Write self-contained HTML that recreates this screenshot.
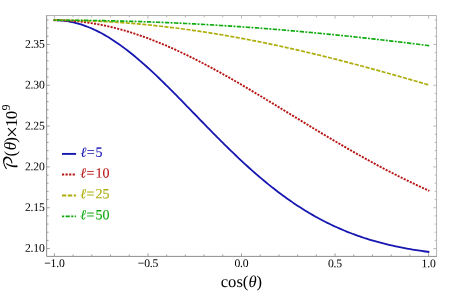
<!DOCTYPE html>
<html><head><meta charset="utf-8"><title>plot</title>
<style>html,body{margin:0;padding:0;background:#fff;}svg{display:block;}text{font-family:"Liberation Serif","DejaVu Math TeX Gyre",serif;}</style>
</head><body>
<svg width="459" height="293" viewBox="0 0 459 293">
<rect width="459" height="293" fill="#fff"/>
<path d="M53.65,20.20 L55.53,20.21 L57.41,20.25 L59.29,20.34 L61.17,20.48 L63.04,20.65 L64.92,20.87 L66.80,21.13 L68.68,21.43 L70.56,21.78 L72.44,22.17 L74.31,22.59 L76.19,23.07 L78.07,23.58 L79.95,24.13 L81.83,24.72 L83.71,25.36 L85.59,26.03 L87.46,26.74 L89.34,27.50 L91.22,28.29 L93.10,29.12 L94.98,29.99 L96.86,30.89 L98.74,31.84 L100.61,32.82 L102.49,33.83 L104.37,34.88 L106.25,35.97 L108.13,37.09 L110.01,38.25 L111.88,39.44 L113.76,40.66 L115.64,41.91 L117.52,43.19 L119.40,44.51 L121.28,45.86 L123.16,47.23 L125.03,48.64 L126.91,50.07 L128.79,51.53 L130.67,53.02 L132.55,54.53 L134.43,56.07 L136.30,57.63 L138.18,59.21 L140.06,60.82 L141.94,62.45 L143.82,64.11 L145.70,65.78 L147.58,67.48 L149.45,69.19 L151.33,70.92 L153.21,72.67 L155.09,74.43 L156.97,76.22 L158.85,78.01 L160.73,79.82 L162.60,81.65 L164.48,83.49 L166.36,85.34 L168.24,87.20 L170.12,89.07 L172.00,90.95 L173.87,92.84 L175.75,94.74 L177.63,96.64 L179.51,98.56 L181.39,100.47 L183.27,102.40 L185.15,104.32 L187.02,106.26 L188.90,108.19 L190.78,110.13 L192.66,112.06 L194.54,114.00 L196.42,115.94 L198.29,117.88 L200.17,119.81 L202.05,121.75 L203.93,123.68 L205.81,125.61 L207.69,127.53 L209.57,129.45 L211.44,131.37 L213.32,133.27 L215.20,135.18 L217.08,137.07 L218.96,138.96 L220.84,140.84 L222.72,142.71 L224.59,144.57 L226.47,146.42 L228.35,148.26 L230.23,150.09 L232.11,151.91 L233.99,153.72 L235.86,155.52 L237.74,157.30 L239.62,159.07 L241.50,160.83 L243.38,162.57 L245.26,164.30 L247.14,166.01 L249.01,167.71 L250.89,169.40 L252.77,171.07 L254.65,172.72 L256.53,174.36 L258.41,175.98 L260.28,177.58 L262.16,179.17 L264.04,180.74 L265.92,182.29 L267.80,183.83 L269.68,185.35 L271.56,186.85 L273.43,188.33 L275.31,189.79 L277.19,191.24 L279.07,192.67 L280.95,194.07 L282.83,195.46 L284.71,196.83 L286.58,198.19 L288.46,199.52 L290.34,200.83 L292.22,202.13 L294.10,203.40 L295.98,204.66 L297.85,205.90 L299.73,207.12 L301.61,208.32 L303.49,209.50 L305.37,210.66 L307.25,211.80 L309.13,212.92 L311.00,214.03 L312.88,215.11 L314.76,216.18 L316.64,217.23 L318.52,218.26 L320.40,219.27 L322.27,220.26 L324.15,221.24 L326.03,222.19 L327.91,223.13 L329.79,224.05 L331.67,224.95 L333.55,225.84 L335.42,226.70 L337.30,227.55 L339.18,228.39 L341.06,229.20 L342.94,230.00 L344.82,230.78 L346.70,231.55 L348.57,232.30 L350.45,233.03 L352.33,233.75 L354.21,234.45 L356.09,235.14 L357.97,235.81 L359.84,236.46 L361.72,237.10 L363.60,237.73 L365.48,238.34 L367.36,238.94 L369.24,239.52 L371.12,240.09 L372.99,240.64 L374.87,241.19 L376.75,241.71 L378.63,242.23 L380.51,242.73 L382.39,243.22 L384.26,243.70 L386.14,244.17 L388.02,244.62 L389.90,245.06 L391.78,245.49 L393.66,245.91 L395.54,246.32 L397.41,246.72 L399.29,247.10 L401.17,247.48 L403.05,247.84 L404.93,248.20 L406.81,248.54 L408.69,248.88 L410.56,249.21 L412.44,249.52 L414.32,249.83 L416.20,250.13 L418.08,250.42 L419.96,250.70 L421.83,250.98 L423.71,251.24 L425.59,251.50 L427.47,251.75 L429.35,251.99" fill="none" stroke="#1616b0" stroke-width="1.8"/>
<path d="M53.65,20.20 L55.53,20.20 L57.41,20.22 L59.29,20.25 L61.17,20.30 L63.04,20.36 L64.92,20.44 L66.80,20.53 L68.68,20.64 L70.56,20.76 L72.44,20.90 L74.31,21.05 L76.19,21.22 L78.07,21.40 L79.95,21.60 L81.83,21.81 L83.71,22.04 L85.59,22.28 L87.46,22.54 L89.34,22.81 L91.22,23.10 L93.10,23.40 L94.98,23.72 L96.86,24.05 L98.74,24.39 L100.61,24.75 L102.49,25.13 L104.37,25.52 L106.25,25.92 L108.13,26.33 L110.01,26.77 L111.88,27.21 L113.76,27.67 L115.64,28.14 L117.52,28.63 L119.40,29.12 L121.28,29.64 L123.16,30.16 L125.03,30.70 L126.91,31.26 L128.79,31.82 L130.67,32.40 L132.55,32.99 L134.43,33.60 L136.30,34.21 L138.18,34.84 L140.06,35.48 L141.94,36.14 L143.82,36.81 L145.70,37.48 L147.58,38.17 L149.45,38.88 L151.33,39.59 L153.21,40.32 L155.09,41.05 L156.97,41.80 L158.85,42.56 L160.73,43.33 L162.60,44.11 L164.48,44.90 L166.36,45.71 L168.24,46.52 L170.12,47.34 L172.00,48.18 L173.87,49.02 L175.75,49.88 L177.63,50.74 L179.51,51.61 L181.39,52.49 L183.27,53.39 L185.15,54.29 L187.02,55.20 L188.90,56.11 L190.78,57.04 L192.66,57.98 L194.54,58.92 L196.42,59.87 L198.29,60.83 L200.17,61.80 L202.05,62.78 L203.93,63.76 L205.81,64.75 L207.69,65.75 L209.57,66.75 L211.44,67.76 L213.32,68.78 L215.20,69.80 L217.08,70.84 L218.96,71.87 L220.84,72.92 L222.72,73.97 L224.59,75.02 L226.47,76.08 L228.35,77.15 L230.23,78.22 L232.11,79.29 L233.99,80.37 L235.86,81.46 L237.74,82.55 L239.62,83.64 L241.50,84.74 L243.38,85.84 L245.26,86.95 L247.14,88.06 L249.01,89.17 L250.89,90.29 L252.77,91.41 L254.65,92.53 L256.53,93.65 L258.41,94.78 L260.28,95.91 L262.16,97.05 L264.04,98.18 L265.92,99.32 L267.80,100.46 L269.68,101.60 L271.56,102.74 L273.43,103.89 L275.31,105.03 L277.19,106.18 L279.07,107.32 L280.95,108.47 L282.83,109.62 L284.71,110.77 L286.58,111.92 L288.46,113.07 L290.34,114.22 L292.22,115.37 L294.10,116.51 L295.98,117.66 L297.85,118.81 L299.73,119.96 L301.61,121.10 L303.49,122.25 L305.37,123.39 L307.25,124.54 L309.13,125.68 L311.00,126.82 L312.88,127.96 L314.76,129.09 L316.64,130.23 L318.52,131.36 L320.40,132.49 L322.27,133.62 L324.15,134.75 L326.03,135.87 L327.91,136.99 L329.79,138.11 L331.67,139.22 L333.55,140.33 L335.42,141.44 L337.30,142.55 L339.18,143.65 L341.06,144.75 L342.94,145.84 L344.82,146.93 L346.70,148.02 L348.57,149.10 L350.45,150.18 L352.33,151.26 L354.21,152.33 L356.09,153.40 L357.97,154.46 L359.84,155.52 L361.72,156.57 L363.60,157.62 L365.48,158.67 L367.36,159.71 L369.24,160.74 L371.12,161.77 L372.99,162.79 L374.87,163.81 L376.75,164.83 L378.63,165.84 L380.51,166.84 L382.39,167.84 L384.26,168.83 L386.14,169.82 L388.02,170.80 L389.90,171.78 L391.78,172.75 L393.66,173.71 L395.54,174.67 L397.41,175.62 L399.29,176.57 L401.17,177.51 L403.05,178.45 L404.93,179.37 L406.81,180.30 L408.69,181.21 L410.56,182.12 L412.44,183.03 L414.32,183.92 L416.20,184.82 L418.08,185.70 L419.96,186.58 L421.83,187.45 L423.71,188.32 L425.59,189.17 L427.47,190.03 L429.35,190.87" fill="none" stroke="#b81414" stroke-width="1.9" stroke-dasharray="2.1 1.28"/>
<path d="M53.65,20.20 L55.53,20.20 L57.41,20.20 L59.29,20.21 L61.17,20.22 L63.04,20.24 L64.92,20.26 L66.80,20.28 L68.68,20.31 L70.56,20.34 L72.44,20.38 L74.31,20.41 L76.19,20.46 L78.07,20.50 L79.95,20.55 L81.83,20.61 L83.71,20.66 L85.59,20.72 L87.46,20.79 L89.34,20.86 L91.22,20.93 L93.10,21.01 L94.98,21.09 L96.86,21.17 L98.74,21.26 L100.61,21.35 L102.49,21.44 L104.37,21.54 L106.25,21.65 L108.13,21.75 L110.01,21.86 L111.88,21.98 L113.76,22.09 L115.64,22.21 L117.52,22.34 L119.40,22.47 L121.28,22.60 L123.16,22.74 L125.03,22.88 L126.91,23.02 L128.79,23.17 L130.67,23.32 L132.55,23.47 L134.43,23.63 L136.30,23.79 L138.18,23.96 L140.06,24.13 L141.94,24.30 L143.82,24.47 L145.70,24.65 L147.58,24.84 L149.45,25.02 L151.33,25.21 L153.21,25.41 L155.09,25.61 L156.97,25.81 L158.85,26.01 L160.73,26.22 L162.60,26.43 L164.48,26.65 L166.36,26.87 L168.24,27.09 L170.12,27.31 L172.00,27.54 L173.87,27.78 L175.75,28.01 L177.63,28.25 L179.51,28.49 L181.39,28.74 L183.27,28.99 L185.15,29.24 L187.02,29.50 L188.90,29.76 L190.78,30.02 L192.66,30.29 L194.54,30.56 L196.42,30.83 L198.29,31.11 L200.17,31.39 L202.05,31.67 L203.93,31.96 L205.81,32.25 L207.69,32.54 L209.57,32.84 L211.44,33.14 L213.32,33.44 L215.20,33.74 L217.08,34.05 L218.96,34.37 L220.84,34.68 L222.72,35.00 L224.59,35.32 L226.47,35.64 L228.35,35.97 L230.23,36.30 L232.11,36.64 L233.99,36.97 L235.86,37.31 L237.74,37.66 L239.62,38.00 L241.50,38.35 L243.38,38.70 L245.26,39.06 L247.14,39.41 L249.01,39.77 L250.89,40.14 L252.77,40.50 L254.65,40.87 L256.53,41.24 L258.41,41.62 L260.28,42.00 L262.16,42.38 L264.04,42.76 L265.92,43.15 L267.80,43.53 L269.68,43.93 L271.56,44.32 L273.43,44.72 L275.31,45.12 L277.19,45.52 L279.07,45.92 L280.95,46.33 L282.83,46.74 L284.71,47.15 L286.58,47.57 L288.46,47.98 L290.34,48.40 L292.22,48.83 L294.10,49.25 L295.98,49.68 L297.85,50.11 L299.73,50.54 L301.61,50.98 L303.49,51.41 L305.37,51.85 L307.25,52.30 L309.13,52.74 L311.00,53.19 L312.88,53.64 L314.76,54.09 L316.64,54.54 L318.52,55.00 L320.40,55.45 L322.27,55.91 L324.15,56.38 L326.03,56.84 L327.91,57.31 L329.79,57.78 L331.67,58.25 L333.55,58.72 L335.42,59.19 L337.30,59.67 L339.18,60.15 L341.06,60.63 L342.94,61.11 L344.82,61.60 L346.70,62.09 L348.57,62.58 L350.45,63.07 L352.33,63.56 L354.21,64.05 L356.09,64.55 L357.97,65.05 L359.84,65.55 L361.72,66.05 L363.60,66.55 L365.48,67.06 L367.36,67.56 L369.24,68.07 L371.12,68.58 L372.99,69.09 L374.87,69.61 L376.75,70.12 L378.63,70.64 L380.51,71.16 L382.39,71.68 L384.26,72.20 L386.14,72.72 L388.02,73.25 L389.90,73.77 L391.78,74.30 L393.66,74.83 L395.54,75.36 L397.41,75.89 L399.29,76.42 L401.17,76.96 L403.05,77.49 L404.93,78.03 L406.81,78.57 L408.69,79.11 L410.56,79.65 L412.44,80.19 L414.32,80.73 L416.20,81.28 L418.08,81.82 L419.96,82.37 L421.83,82.91 L423.71,83.46 L425.59,84.01 L427.47,84.56 L429.35,85.11" fill="none" stroke="#adad0a" stroke-width="1.7" stroke-dasharray="4.1 1.45"/>
<path d="M53.65,20.20 L55.53,20.20 L57.41,20.20 L59.29,20.20 L61.17,20.21 L63.04,20.21 L64.92,20.22 L66.80,20.23 L68.68,20.24 L70.56,20.25 L72.44,20.26 L74.31,20.28 L76.19,20.29 L78.07,20.31 L79.95,20.33 L81.83,20.34 L83.71,20.36 L85.59,20.39 L87.46,20.41 L89.34,20.43 L91.22,20.46 L93.10,20.49 L94.98,20.52 L96.86,20.55 L98.74,20.58 L100.61,20.61 L102.49,20.64 L104.37,20.68 L106.25,20.72 L108.13,20.75 L110.01,20.79 L111.88,20.83 L113.76,20.88 L115.64,20.92 L117.52,20.96 L119.40,21.01 L121.28,21.06 L123.16,21.11 L125.03,21.16 L126.91,21.21 L128.79,21.26 L130.67,21.31 L132.55,21.37 L134.43,21.43 L136.30,21.48 L138.18,21.54 L140.06,21.60 L141.94,21.67 L143.82,21.73 L145.70,21.79 L147.58,21.86 L149.45,21.93 L151.33,22.00 L153.21,22.07 L155.09,22.14 L156.97,22.21 L158.85,22.28 L160.73,22.36 L162.60,22.44 L164.48,22.51 L166.36,22.59 L168.24,22.67 L170.12,22.76 L172.00,22.84 L173.87,22.92 L175.75,23.01 L177.63,23.10 L179.51,23.18 L181.39,23.27 L183.27,23.36 L185.15,23.46 L187.02,23.55 L188.90,23.65 L190.78,23.74 L192.66,23.84 L194.54,23.94 L196.42,24.04 L198.29,24.14 L200.17,24.24 L202.05,24.35 L203.93,24.45 L205.81,24.56 L207.69,24.67 L209.57,24.77 L211.44,24.89 L213.32,25.00 L215.20,25.11 L217.08,25.22 L218.96,25.34 L220.84,25.46 L222.72,25.57 L224.59,25.69 L226.47,25.81 L228.35,25.94 L230.23,26.06 L232.11,26.18 L233.99,26.31 L235.86,26.43 L237.74,26.56 L239.62,26.69 L241.50,26.82 L243.38,26.95 L245.26,27.09 L247.14,27.22 L249.01,27.36 L250.89,27.49 L252.77,27.63 L254.65,27.77 L256.53,27.91 L258.41,28.05 L260.28,28.20 L262.16,28.34 L264.04,28.48 L265.92,28.63 L267.80,28.78 L269.68,28.93 L271.56,29.08 L273.43,29.23 L275.31,29.38 L277.19,29.53 L279.07,29.69 L280.95,29.85 L282.83,30.00 L284.71,30.16 L286.58,30.32 L288.46,30.48 L290.34,30.64 L292.22,30.81 L294.10,30.97 L295.98,31.14 L297.85,31.30 L299.73,31.47 L301.61,31.64 L303.49,31.81 L305.37,31.98 L307.25,32.15 L309.13,32.33 L311.00,32.50 L312.88,32.68 L314.76,32.86 L316.64,33.03 L318.52,33.21 L320.40,33.39 L322.27,33.58 L324.15,33.76 L326.03,33.94 L327.91,34.13 L329.79,34.31 L331.67,34.50 L333.55,34.69 L335.42,34.88 L337.30,35.07 L339.18,35.26 L341.06,35.45 L342.94,35.65 L344.82,35.84 L346.70,36.04 L348.57,36.24 L350.45,36.43 L352.33,36.63 L354.21,36.83 L356.09,37.04 L357.97,37.24 L359.84,37.44 L361.72,37.65 L363.60,37.85 L365.48,38.06 L367.36,38.27 L369.24,38.48 L371.12,38.69 L372.99,38.90 L374.87,39.11 L376.75,39.32 L378.63,39.54 L380.51,39.75 L382.39,39.97 L384.26,40.19 L386.14,40.40 L388.02,40.62 L389.90,40.84 L391.78,41.06 L393.66,41.29 L395.54,41.51 L397.41,41.73 L399.29,41.96 L401.17,42.19 L403.05,42.41 L404.93,42.64 L406.81,42.87 L408.69,43.10 L410.56,43.33 L412.44,43.57 L414.32,43.80 L416.20,44.03 L418.08,44.27 L419.96,44.50 L421.83,44.74 L423.71,44.98 L425.59,45.22 L427.47,45.46 L429.35,45.70" fill="none" stroke="#0eaa0e" stroke-width="1.65" stroke-dasharray="1.9 1.4 4.4 1.3"/>
<g stroke="#a0a0a0" stroke-width="1" fill="none">
<path d="M46.65,15.0V256.4H437.05" stroke="#8f8f8f"/>
<path d="M46.65,15.5H436.55V256.4" stroke="#b4b4b4"/>
<path d="M54.40,256.4v-3.1M73.11,256.4v-1.9M91.82,256.4v-1.9M110.53,256.4v-1.9M129.24,256.4v-1.9M147.95,256.4v-3.1M166.66,256.4v-1.9M185.37,256.4v-1.9M204.08,256.4v-1.9M222.79,256.4v-1.9M241.50,256.4v-3.1M260.21,256.4v-1.9M278.92,256.4v-1.9M297.63,256.4v-1.9M316.34,256.4v-1.9M335.05,256.4v-3.1M353.76,256.4v-1.9M372.47,256.4v-1.9M391.18,256.4v-1.9M409.89,256.4v-1.9M428.60,256.4v-3.1M46.65,248.55h3.1M46.65,240.39h1.9M46.65,232.22h1.9M46.65,224.06h1.9M46.65,215.89h1.9M46.65,207.73h3.1M46.65,199.57h1.9M46.65,191.40h1.9M46.65,183.24h1.9M46.65,175.07h1.9M46.65,166.91h3.1M46.65,158.75h1.9M46.65,150.58h1.9M46.65,142.42h1.9M46.65,134.25h1.9M46.65,126.09h3.1M46.65,117.93h1.9M46.65,109.76h1.9M46.65,101.60h1.9M46.65,93.43h1.9M46.65,85.27h3.1M46.65,77.11h1.9M46.65,68.94h1.9M46.65,60.78h1.9M46.65,52.61h1.9M46.65,44.45h3.1M46.65,36.29h1.9M46.65,28.12h1.9M46.65,19.96h1.9" stroke-width="0.9" stroke="#939393"/>
<path d="M54.40,15.5v3.1M73.11,15.5v1.9M91.82,15.5v1.9M110.53,15.5v1.9M129.24,15.5v1.9M147.95,15.5v3.1M166.66,15.5v1.9M185.37,15.5v1.9M204.08,15.5v1.9M222.79,15.5v1.9M241.50,15.5v3.1M260.21,15.5v1.9M278.92,15.5v1.9M297.63,15.5v1.9M316.34,15.5v1.9M335.05,15.5v3.1M353.76,15.5v1.9M372.47,15.5v1.9M391.18,15.5v1.9M409.89,15.5v1.9M428.60,15.5v3.1M436.55,248.55h-3.1M436.55,240.39h-1.9M436.55,232.22h-1.9M436.55,224.06h-1.9M436.55,215.89h-1.9M436.55,207.73h-3.1M436.55,199.57h-1.9M436.55,191.40h-1.9M436.55,183.24h-1.9M436.55,175.07h-1.9M436.55,166.91h-3.1M436.55,158.75h-1.9M436.55,150.58h-1.9M436.55,142.42h-1.9M436.55,134.25h-1.9M436.55,126.09h-3.1M436.55,117.93h-1.9M436.55,109.76h-1.9M436.55,101.60h-1.9M436.55,93.43h-1.9M436.55,85.27h-3.1M436.55,77.11h-1.9M436.55,68.94h-1.9M436.55,60.78h-1.9M436.55,52.61h-1.9M436.55,44.45h-3.1M436.55,36.29h-1.9M436.55,28.12h-1.9M436.55,19.96h-1.9" stroke-width="0.9" stroke="#b0b0b0"/>
</g>
<g font-size="11.7" fill="#000" text-anchor="middle" letter-spacing="-0.2" transform="rotate(0.03 230 146)">
<text x="54.50" y="267.1">−1.0</text>
<text x="148.05" y="267.1">−0.5</text>
<text x="241.50" y="267.1">0.0</text>
<text x="335.05" y="267.1">0.5</text>
<text x="428.60" y="267.1">1.0</text>
</g>
<g font-size="11.7" fill="#000" text-anchor="end" letter-spacing="-0.2" transform="rotate(0.03 230 146)">
<text x="44.6" y="251.95">2.10</text>
<text x="44.6" y="211.13">2.15</text>
<text x="44.6" y="170.31">2.20</text>
<text x="44.6" y="129.49">2.25</text>
<text x="44.6" y="88.67">2.30</text>
<text x="44.6" y="47.85">2.35</text>
</g>
<text x="241.5" y="287" font-size="16.6" text-anchor="middle" fill="#000" transform="rotate(0.03 230 146)">cos(<tspan font-style="italic">θ</tspan>)</text>
<text transform="rotate(-90)" font-size="17" fill="#000"><tspan x="-170.8" y="17.2" font-size="18.5">𝒫</tspan><tspan x="-156.5" y="16.0" font-size="17">(</tspan><tspan x="-150.2" y="16.3" font-size="17" font-style="italic">θ</tspan><tspan x="-142.8" y="16.0" font-size="17">)</tspan><tspan x="-138.1" y="18.5" font-size="21">×</tspan><tspan x="-127.0" y="16.5" font-size="17" letter-spacing="-0.7">10</tspan><tspan x="-110.6" y="10.1" font-size="12">9</tspan></text>
<path d="M62,153.9H76.1" stroke="#1616b0" stroke-width="1.90"/>
<text x="80.4" y="156.85" font-size="14" fill="#1616b0" stroke="#1616b0" stroke-width="0.1" transform="rotate(0.03 230 146)"><tspan font-style="italic">ℓ</tspan><tspan dx="0.4">=</tspan><tspan dx="0.9">5</tspan></text>
<path d="M62,174.6H76.1" stroke="#b81414" stroke-width="2.00" stroke-dasharray="2.2 1.35"/>
<text x="80.4" y="177.55" font-size="14" fill="#b81414" stroke="#b81414" stroke-width="0.1" transform="rotate(0.03 230 146)"><tspan font-style="italic">ℓ</tspan><tspan dx="0.4">=</tspan><tspan dx="0.9">10</tspan></text>
<path d="M62,195.5H76.1" stroke="#adad0a" stroke-width="1.90" stroke-dasharray="4.3 1.6"/>
<text x="80.4" y="198.45" font-size="14" fill="#adad0a" stroke="#adad0a" stroke-width="0.1" transform="rotate(0.03 230 146)"><tspan font-style="italic">ℓ</tspan><tspan dx="0.4">=</tspan><tspan dx="0.9">25</tspan></text>
<path d="M62,216.4H76.1" stroke="#0eaa0e" stroke-width="1.90" stroke-dasharray="2.2 1.4 4.2 1.4"/>
<text x="80.4" y="219.35" font-size="14" fill="#0eaa0e" stroke="#0eaa0e" stroke-width="0.1" transform="rotate(0.03 230 146)"><tspan font-style="italic">ℓ</tspan><tspan dx="0.4">=</tspan><tspan dx="0.9">50</tspan></text>
</svg>
</body></html>
